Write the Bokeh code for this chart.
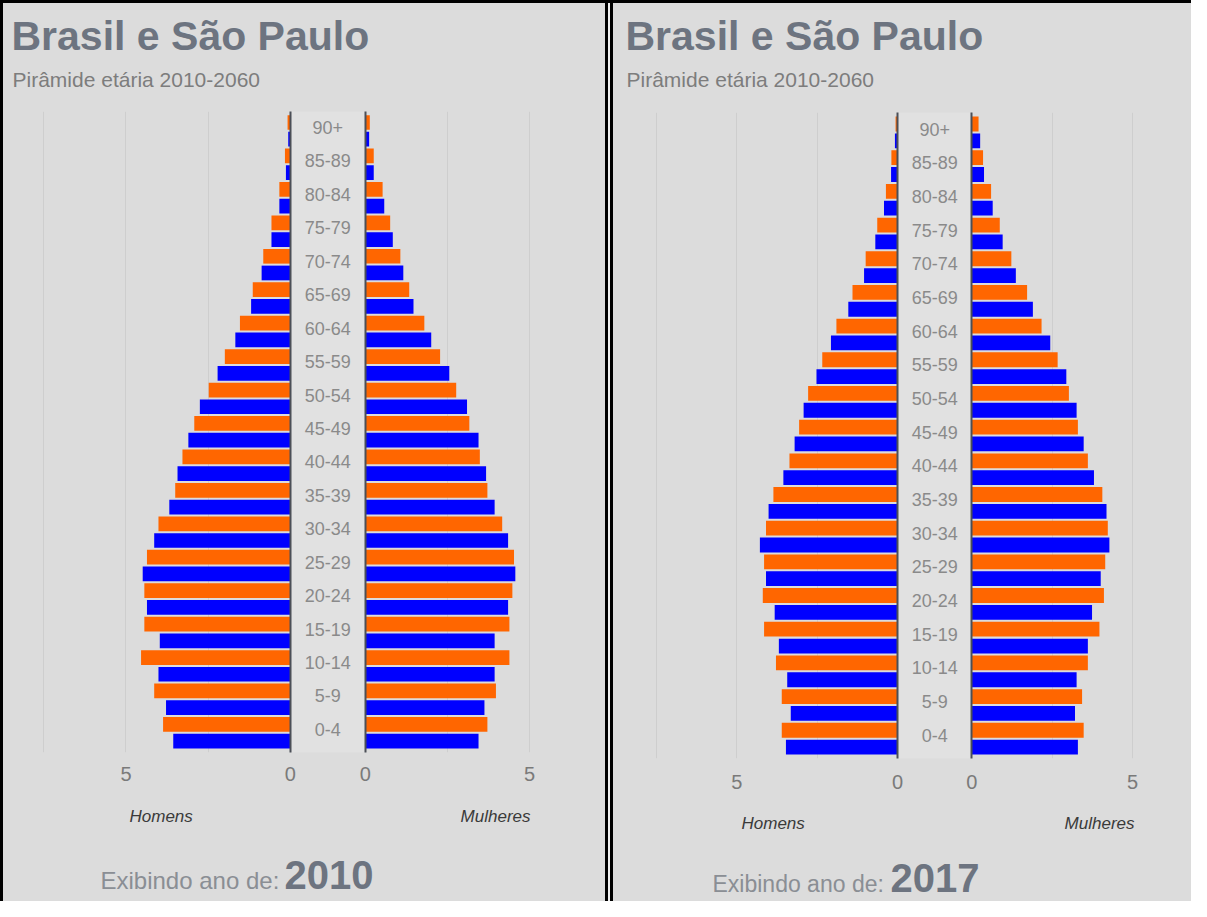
import numpy as np
from bokeh.plotting import figure
from bokeh.models import (Range1d, ColumnDataSource, LinearAxis, FixedTicker,
                          CustomJSTickFormatter, Grid, Label, BoxAnnotation, Div)
from bokeh.layouts import row, column
from bokeh.embed import file_html
from bokeh.resources import INLINE
from bokeh.core.properties import value

# ---------------- data (bottom -> top) ----------------
age_groups = ["0-4", "5-9", "10-14", "15-19", "20-24", "25-29", "30-34", "35-39",
              "40-44", "45-49", "50-54", "55-59", "60-64", "65-69", "70-74",
              "75-79", "80-84", "85-89", "90+"]

men_2010_orange = [3.87, 4.14, 4.54, 4.44, 4.44, 4.36, 4.01, 3.50, 3.28, 2.92,
                   2.48, 1.99, 1.53, 1.14, 0.82, 0.57, 0.33, 0.16, 0.08]
men_2010_blue = [3.56, 3.78, 4.01, 3.97, 4.36, 4.49, 4.14, 3.68, 3.43, 3.10,
                 2.75, 2.21, 1.67, 1.19, 0.87, 0.57, 0.33, 0.13, 0.06]
women_2010_orange = [3.72, 3.98, 4.39, 4.39, 4.48, 4.53, 4.17, 3.72, 3.49, 3.17,
                     2.77, 2.28, 1.80, 1.34, 1.07, 0.76, 0.53, 0.26, 0.14]
women_2010_blue = [3.45, 3.63, 3.94, 3.94, 4.35, 4.57, 4.35, 3.94, 3.68, 3.45,
                   3.10, 2.56, 2.01, 1.47, 1.16, 0.84, 0.58, 0.26, 0.12]

men_2017_orange = [3.60, 3.60, 3.78, 4.15, 4.19, 4.15, 4.09, 3.86, 3.36, 3.06,
                   2.78, 2.34, 1.90, 1.40, 0.99, 0.63, 0.36, 0.19, 0.06]
men_2017_blue = [3.47, 3.32, 3.43, 3.69, 3.82, 4.09, 4.28, 4.01, 3.55, 3.20,
                 2.92, 2.52, 2.07, 1.53, 1.04, 0.69, 0.42, 0.20, 0.08]
women_2017_orange = [3.48, 3.43, 3.61, 3.97, 4.11, 4.15, 4.23, 4.06, 3.61, 3.30,
                     3.02, 2.67, 2.17, 1.72, 1.23, 0.87, 0.60, 0.35, 0.21]
women_2017_blue = [3.30, 3.21, 3.26, 3.61, 3.74, 4.01, 4.28, 4.19, 3.80, 3.48,
                   3.26, 2.94, 2.44, 1.90, 1.37, 0.96, 0.65, 0.38, 0.26]

x_tick_values = [5, 0]
grid_values = [2.5, 5, 7.5]
title_text = "Brasil e São Paulo"
subtitle_text = "Pirâmide etária 2010-2060"

# ---------------- style ----------------
FONT = "Liberation Sans"
BG = "#dcdcdc"
CENTER_BG = "#e1e1e1"
ORANGE = "#ff6600"
BLUE = "#0000ff"
TITLE_C = "#6d7480"
SUB_C = "#7d7d7d"
CAT_C = "#8a8a8a"
TICK_C = "#7a7a7a"
HM_C = "#3a3a3a"
EXI_C = "#8a8e94"
H = 898
AX_H = 40
BASE_SHIFT = 0.34   # correction so that the label's baseline sits at the wanted spot


def plain_fig(W, h, x_range, y_range):
    p = figure(width=W, height=h, x_range=x_range, y_range=y_range,
               x_axis_type=None, y_axis_type=None,
               toolbar_location=None, output_backend="svg",
               min_border_left=0, min_border_right=0,
               min_border_top=0, min_border_bottom=0,
               background_fill_color=BG, border_fill_color=BG,
               outline_line_color=None, styles={"background-color": BG})
    return p


def add_label(p, x, y, text, size, color, style="normal", align="left"):
    y = y - BASE_SHIFT * size
    p.add_layout(Label(x=x, y=y, text=text, text_font=FONT,
                       text_font_size=f"{size}px", text_font_style=style,
                       text_color=color, text_align=align,
                       text_baseline="alphabetic"))


def make_panel(year, men_o, men_b, wom_o, wom_b, W, center_px, scale, half_gap,
               bars_bottom, pitch, frame_top, frame_bottom, title_x, label_standoff,
               hm_base, homens_x, mulheres_x, exi_x, exi_size, year_x, exi_base):
    g = half_gap / scale

    def px2x(px):
        return (px - center_px) / scale

    def px2y(py):
        return (bars_bottom - py) / pitch

    # ---- header ----
    hdr = plain_fig(W, frame_top, Range1d(0, W), Range1d(frame_top, 0))
    add_label(hdr, title_x, 46.5, title_text, 41, TITLE_C, "bold")
    add_label(hdr, title_x + 1, 83, subtitle_text, 21, SUB_C)

    # ---- chart ----
    frame_h = frame_bottom - frame_top
    p = figure(width=W, height=frame_h + AX_H,
               x_range=Range1d(px2x(0), px2x(W)),
               y_range=Range1d(px2y(frame_bottom), px2y(frame_top)),
               x_axis_type=None, y_axis_type=None,
               toolbar_location=None, output_backend="svg",
               min_border_left=0, min_border_right=0,
               min_border_top=0, min_border_bottom=AX_H,
               background_fill_color=BG, border_fill_color=BG,
               outline_line_color=None, styles={"background-color": BG})

    idx = np.arange(len(age_groups))
    src = ColumnDataSource(dict(
        y_o=idx * 2 + 1.5, y_b=idx * 2 + 0.5, y_lab=idx * 2 + 1.2,
        lab=age_groups, lab_x=np.zeros(len(age_groups)),
        mo_l=np.full(len(idx), -g), mo_r=-(g + np.array(men_o)),
        mb_l=np.full(len(idx), -g), mb_r=-(g + np.array(men_b)),
        wo_l=np.full(len(idx), g), wo_r=g + np.array(wom_o),
        wb_l=np.full(len(idx), g), wb_r=g + np.array(wom_b),
    ))

    p.add_layout(BoxAnnotation(left=-g, right=g, fill_color=CENTER_BG, fill_alpha=1,
                               line_color=None, level="underlay"))

    gticks = [-(v + g) for v in grid_values] + [(v + g) for v in grid_values]
    p.add_layout(Grid(dimension=0, ticker=FixedTicker(ticks=gticks),
                      grid_line_color="#cecece", grid_line_width=1))

    bh = 0.88
    p.hbar(y="y_o", left="mo_l", right="mo_r", height=bh, source=src,
           fill_color=ORANGE, line_color=None)
    p.hbar(y="y_b", left="mb_l", right="mb_r", height=bh, source=src,
           fill_color=BLUE, line_color=None)
    p.hbar(y="y_o", left="wo_l", right="wo_r", height=bh, source=src,
           fill_color=ORANGE, line_color=None)
    p.hbar(y="y_b", left="wb_l", right="wb_r", height=bh, source=src,
           fill_color=BLUE, line_color=None)

    p.add_layout(Grid(dimension=0, ticker=FixedTicker(ticks=[-g, g]),
                      grid_line_color="#4b4f57", grid_line_width=2, level="guide"))

    p.text(x="lab_x", y="y_lab", text="lab", source=src, text_align="center",
           text_baseline="middle", text_font=value(FONT), text_font_size="18px",
           text_color=CAT_C)

    ticks = [-(t + g) for t in x_tick_values] + [(t + g) for t in reversed(x_tick_values)]
    ax = LinearAxis(ticker=FixedTicker(ticks=ticks),
                    formatter=CustomJSTickFormatter(
                        args=dict(g=g),
                        code="return Math.round(Math.abs(tick) - g).toString();"),
                    axis_line_color=None, major_tick_line_color=None,
                    minor_tick_line_color=None, major_tick_out=0, major_tick_in=0,
                    major_label_text_font=FONT, major_label_text_font_size="20px",
                    major_label_text_color=TICK_C,
                    major_label_standoff=label_standoff)
    p.add_layout(ax, "below")

    # ---- footer ----
    ftop = frame_bottom + AX_H
    fh = H - frame_top - (frame_h + AX_H)
    ftr = plain_fig(W, fh, Range1d(0, W), Range1d(fh, 0))
    add_label(ftr, homens_x, hm_base - ftop, "Homens", 17, HM_C, "italic")
    add_label(ftr, mulheres_x, hm_base - ftop, "Mulheres", 17, HM_C, "italic", "right")
    add_label(ftr, exi_x, exi_base - ftop, "Exibindo ano de:", exi_size, EXI_C)
    add_label(ftr, year_x, exi_base - ftop, str(year), 40, TITLE_C, "bold")

    return column(hdr, p, ftr, spacing=0)


WL, WR = 602, 578
pL = make_panel(2010, men_2010_orange, men_2010_blue, women_2010_orange, women_2010_blue,
                W=WL, center_px=324.2, scale=32.85, half_gap=37.5,
                bars_bottom=746, pitch=16.72, frame_top=108, frame_bottom=749,
                title_x=8, label_standoff=14, hm_base=819, homens_x=126,
                mulheres_x=527, exi_x=97, exi_size=24, year_x=281, exi_base=885)
pR = make_panel(2017, men_2017_orange, men_2017_blue, women_2017_orange, women_2017_blue,
                W=WR, center_px=321.15, scale=32.15, half_gap=37.15,
                bars_bottom=752, pitch=16.84, frame_top=109, frame_bottom=755,
                title_x=12, label_standoff=16, hm_base=826, homens_x=128,
                mulheres_x=521, exi_x=99, exi_size=23, year_x=277, exi_base=888)

TOTAL_W = 3 + WL + 8 + WR
top_bar = Div(text="", width=TOTAL_W, height=3, margin=0,
              styles={"background-color": "black"})
left_bar = Div(text="", width=3, height=H, margin=0,
               styles={"background-color": "black"})
sep = Div(text="", width=8, height=H, margin=0,
          styles={"background": "linear-gradient(to right, #000 0px, #000 3px, #eeeeee 3px, #eeeeee 5px, #000 5px, #000 8px)"})

layout = column(top_bar, row(left_bar, pL, sep, pR, spacing=0), spacing=0)

open("out.html", "w").write(file_html(layout, INLINE))
